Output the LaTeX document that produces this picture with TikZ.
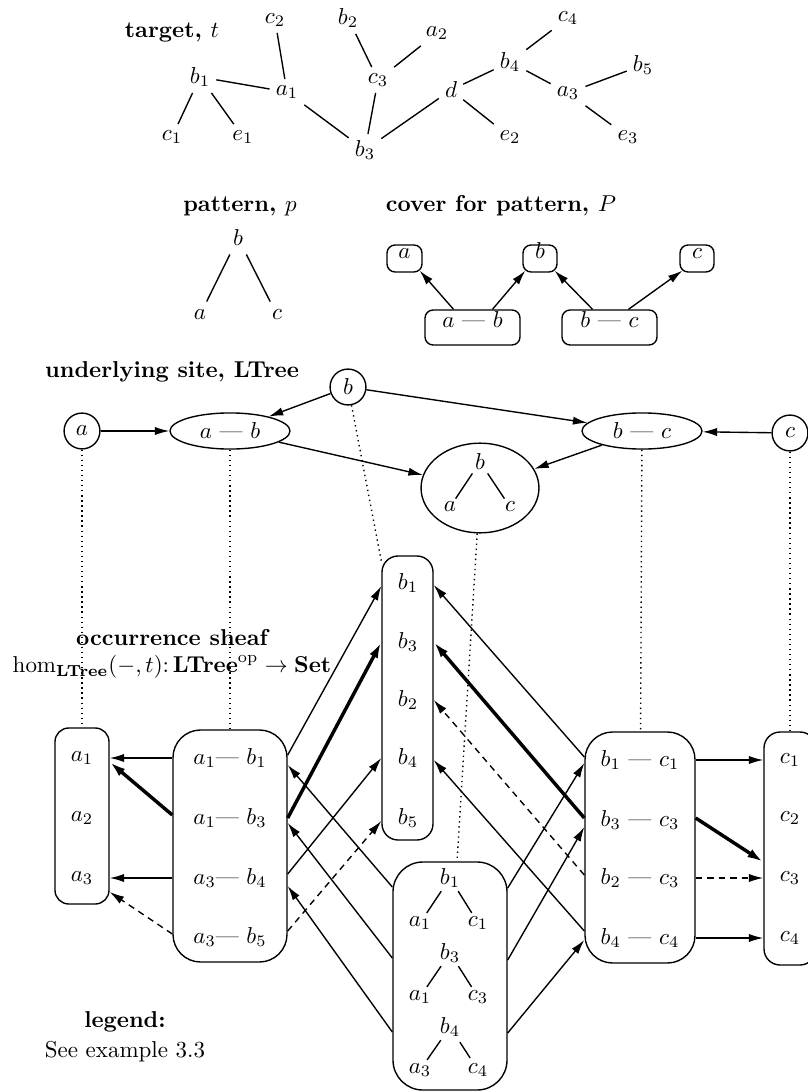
\documentclass[tikz,border=0pt]{standalone}
\usetikzlibrary{arrows.meta,shapes.geometric,fit,calc}
\begin{document}
\begin{tikzpicture}[x=0.435pt,y=-0.435pt,
  tn/.style={inner sep=2.5pt},
  pn/.style={inner sep=3.5pt},
  sn/.style={inner sep=1.3pt},
  ttl/.style={font=\bfseries, inner sep=1pt},
  ln/.style={line width=0.6pt},
  arr/.style={line width=0.6pt,-{Latex[length=6.3pt,width=3.6pt]}},
  tarr/.style={line width=1.5pt,-{Latex[length=7pt,width=4pt]}},
  darr/.style={arr,dash pattern=on 2.8pt off 2.2pt},
  dots/.style={line width=0.6pt,dash pattern=on 0.6pt off 1.6pt},
  box/.style={draw,line width=0.6pt,inner sep=0pt},
  circ/.style={draw,circle,line width=0.6pt,minimum size=15.6pt,inner sep=0pt},
  ell/.style={draw,ellipse,line width=0.6pt,inner sep=0pt},
]
\useasboundingbox (0,0) rectangle (807,1092);

% ---------------- target tree
\node[ttl] (ttgt) at (172,33) {target, $t$};
\node[tn] (tc2) at (275,20) {$c_2$};
\node[tn] (tb1) at (200,77) {$b_1$};
\node[tn] (ta1) at (287,92) {$a_1$};
\node[tn] (tc1) at (172,137) {$c_1$};
\node[tn] (te1) at (243,137) {$e_1$};
\node[tn] (tb2) at (348,18) {$b_2$};
\node[tn] (tc3) at (378,80) {$c_3$};
\node[tn] (tb3) at (365,150) {$b_3$};
\node[tn] (ta2) at (437,33) {$a_2$};
\node[tn] (td) at (451,90) {$d$};
\node[tn] (tb4) at (510,62) {$b_4$};
\node[tn] (tc4) at (568,18) {$c_4$};
\node[tn] (te2) at (510,137) {$e_2$};
\node[tn] (ta3) at (568,93) {$a_3$};
\node[tn] (tb5) at (643,65) {$b_5$};
\node[tn] (te3) at (628,137) {$e_3$};
\draw[ln] (tb1)--(ta1) (tb1)--(tc1) (tb1)--(te1) (ta1)--(tc2) (ta1)--(tb3)
  (tc3)--(tb2) (tc3)--(ta2) (tc3)--(tb3) (tb3)--(td) (td)--(tb4) (td)--(te2)
  (tb4)--(tc4) (tb4)--(ta3) (ta3)--(tb5) (ta3)--(te3);

% ---------------- pattern
\node[ttl] (ptitle) at (240,206) {pattern, $p$};
\node[pn] (pb) at (238,238) {$b$};
\node[pn] (pa) at (200,315) {$a$};
\node[pn] (pc) at (277,315) {$c$};
\draw[ln] (pb)--(pa) (pb)--(pc);

% ---------------- cover
\node[ttl] (ctitle) at (501,206) {cover for pattern, $P$};
\node[box,rounded corners=3.5pt,fit={(387,245) (422,272)}] (ca) {$a$};
\node[box,rounded corners=3.5pt,fit={(523,245) (557,272)}] (cb) {$b$};
\node[box,rounded corners=3.5pt,fit={(680,245) (714,272)}] (cc) {$c$};
\node[box,rounded corners=3.5pt,fit={(425,310) (520,345)}] (cab) {$a$ --- $b$};
\node[box,rounded corners=3.5pt,fit={(562,310) (657,345)}] (cbc) {$b$ --- $c$};
\draw[arr] ($(cab.north)+(-19,0)$) -- ($(ca.south east)+(-3,-2)$);
\draw[arr] ($(cab.north)+(20,0)$) -- ($(cb.south west)+(3,-2)$);
\draw[arr] ($(cbc.north)+(-17,0)$) -- ($(cb.south east)+(-3,-2)$);
\draw[arr] ($(cbc.north)+(19,0)$) -- ($(cc.south west)+(3,-2)$);

% ---------------- underlying site
\node[ttl] (stitle) at (172,372) {underlying site, LTree};
\node[circ] (sa) at (82,431) {$a$};
\node[ell,minimum width=52.2pt,minimum height=15.7pt] (sab) at (230,431) {$a$ --- $b$};
\node[circ] (sb) at (348,387) {$b$};
\node[ell,minimum width=52.2pt,minimum height=15.7pt] (sbc) at (642,431) {$b$ --- $c$};
\node[circ] (sc) at (790,433) {$c$};
\node[ell,minimum width=51.3pt,minimum height=39pt] (st) at (480,488) {};
\node[sn] (stb) at (480,462) {$b$};
\node[sn] (sta) at (450,507) {$a$};
\node[sn] (stc) at (510,507) {$c$};
\draw[ln] (stb)--(sta) (stb)--(stc);
\draw[arr] (sa) -- (sab);
\draw[arr] (sb) -- (sab);
\draw[arr] (sb) -- (sbc);
\draw[arr] (sab) -- (st);
\draw[arr] (sbc) -- (st);
\draw[arr] (sc) -- (sbc);

% ---------------- sheaf
\node[ttl] (shtitle) at (172,638) {occurrence sheaf};
\node[inner sep=1pt] (homl) at (172,667) {$\hom_{\mathbf{LTree}}(-,t)\colon \mathbf{LTree}^{\mathrm{op}}\to\mathbf{Set}$};

\node[box,rounded corners=6pt,fit={(55,728) (109,904)}] (aset) {};
\node[box,rounded corners=12pt,fit={(173,730) (287,962)}] (abox) {};
\node[box,rounded corners=7pt,fit={(382,556) (433,840)}] (bset) {};
\node[box,rounded corners=12pt,fit={(585,732) (695,963)}] (bcbox) {};
\node[box,rounded corners=7pt,fit={(764,732) (816,965)}] (cset) {};
\node[box,rounded corners=13pt,fit={(393,862) (507,1090)}] (tbox) {};

\node (A1) at (82,758) {$a_1$};
\node (A2) at (82,818) {$a_2$};
\node (A3) at (82,878) {$a_3$};

\node (AB1) at (230,758) {$a_1$---~$b_1$};
\node (AB2) at (230,818) {$a_1$---~$b_3$};
\node (AB3) at (230,878) {$a_3$---~$b_4$};
\node (AB4) at (230,937) {$a_3$---~$b_5$};

\node (B1) at (408,583) {$b_1$};
\node (B3) at (408,642) {$b_3$};
\node (B2) at (408,700) {$b_2$};
\node (B4) at (408,758) {$b_4$};
\node (B5) at (408,818) {$b_5$};

\node (BC1) at (640,760) {$b_1$ --- $c_1$};
\node (BC2) at (640,820) {$b_3$ --- $c_3$};
\node (BC3) at (640,878) {$b_2$ --- $c_3$};
\node (BC4) at (640,938) {$b_4$ --- $c_4$};

\node (C1) at (790,760) {$c_1$};
\node (C2) at (790,818) {$c_2$};
\node (C3) at (790,878) {$c_3$};
\node (C4) at (790,938) {$c_4$};

% trees inside tree box
\node[sn] (T1b) at (450,878) {$b_1$};
\node[sn] (T1a) at (420,923) {$a_1$};
\node[sn] (T1c) at (478,923) {$c_1$};
\node[sn] (T2b) at (450,953) {$b_3$};
\node[sn] (T2a) at (420,997) {$a_1$};
\node[sn] (T2c) at (478,997) {$c_3$};
\node[sn] (T3b) at (450,1027) {$b_4$};
\node[sn] (T3a) at (420,1070) {$a_3$};
\node[sn] (T3c) at (478,1070) {$c_4$};
\draw[ln,shorten <=1pt,shorten >=1pt] (T1b)--(T1a) (T1b)--(T1c) (T2b)--(T2a) (T2b)--(T2c) (T3b)--(T3a) (T3b)--(T3c);

% dotted links site -> sheaf
\draw[dots] (sa) -- (aset);
\draw[dots] (sab) -- (abox);
\draw[dots] (sb) -- (bset);
\draw[dots] (st) -- (tbox);
\draw[dots] (sbc) -- (bcbox);
\draw[dots] (sc) -- (cset);

% a-b -> a
\draw[arr] (abox.west |- AB1) -- (aset.east |- A1);
\draw[tarr] ($(abox.west |- AB2)+(0,-3)$) -- ($(aset.east |- A1)+(0,4)$);
\draw[arr] (abox.west |- AB3) -- (aset.east |- A3);
\draw[darr] ($(abox.west |- AB4)+(0,-3)$) -- ($(aset.east |- A3)+(0,14)$);
% a-b -> b
\draw[arr] ($(abox.east |- AB1)+(0,-3)$) -- ($(bset.west |- B1)+(0,3)$);
\draw[tarr] (abox.east |- AB2) -- (bset.west |- B3);
\draw[arr] ($(abox.east |- AB3)+(0,-4)$) -- (bset.west |- B4);
\draw[darr] ($(abox.east |- AB4)+(0,-6)$) -- ($(bset.west |- B5)+(0,3)$);
% tree -> a-b
\draw[arr] ($(tbox.west |- T1b)+(0,9)$) -- ($(abox.east |- AB1)+(0,7)$);
\draw[arr] ($(tbox.west |- T2b)+(0,5)$) -- ($(abox.east |- AB2)+(0,5)$);
\draw[arr] ($(tbox.west |- T3b)+(0,5)$) -- ($(abox.east |- AB3)+(0,8)$);
% tree -> b-c
\draw[arr] ($(tbox.east |- T1b)+(0,10)$) -- ($(bcbox.west |- BC1)+(0,3)$);
\draw[arr] ($(tbox.east |- T2b)+(0,7)$) -- ($(bcbox.west |- BC2)+(0,7)$);
\draw[arr] ($(tbox.east |- T3b)+(0,6)$) -- ($(bcbox.west |- BC4)+(0,2)$);
% b-c -> b
\draw[arr] ($(bcbox.west |- BC1)+(0,-3)$) -- ($(bset.east |- B1)+(0,2)$);
\draw[tarr] ($(bcbox.west |- BC2)+(0,-2)$) -- (bset.east |- B3);
\draw[darr] ($(bcbox.west |- BC3)+(0,-3)$) -- (bset.east |- B2);
\draw[arr] ($(bcbox.west |- BC4)+(0,-7)$) -- ($(bset.east |- B4)+(0,2)$);
% b-c -> c
\draw[arr] (bcbox.east |- BC1) -- (cset.west |- C1);
\draw[tarr] ($(bcbox.east |- BC2)+(0,-2)$) -- ($(cset.west |- C3)+(0,-16)$);
\draw[darr] (bcbox.east |- BC3) -- (cset.west |- C3);
\draw[arr] (bcbox.east |- BC4) -- (cset.west |- C4);

% legend
\node[ttl] (leg) at (125,1022) {legend:};
\node[inner sep=1pt] (legt) at (125,1052) {See example 3.3};
\end{tikzpicture}
\end{document}
